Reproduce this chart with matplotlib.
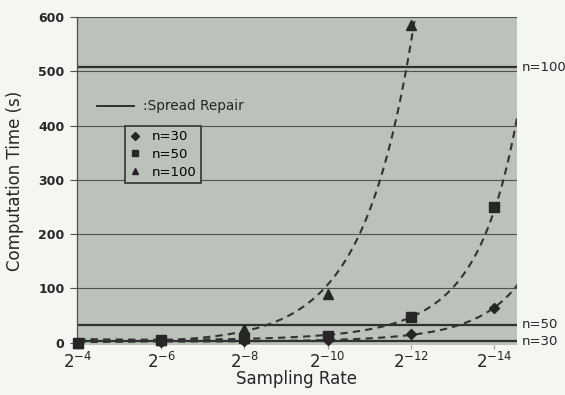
import numpy as np
import matplotlib
matplotlib.use("Agg")
import matplotlib.pyplot as plt
from matplotlib.lines import Line2D
import matplotlib.transforms as mtransforms

plt.rcParams["font.family"] = ["DejaVu Sans"]
plt.rcParams["mathtext.fontset"] = "dejavusans"

# --- data -------------------------------------------------------------------
exponents = [4, 6, 8, 10, 12, 14]          # sampling rate = 2^-k
tick_labels = [r"$2^{-%d}$" % k for k in exponents]

time_n30 = [0, 2, 3, 4, 16, 63]
time_n50 = [0, 5, 9, 12, 47, 250]
time_n100 = [0, 4, 25, 90, 585, np.nan]   # last point off the chart

spread_labels = ["n=30", "n=50", "n=100"]
spread_values = [3, 33, 507]

BG = "#bbc2b9"
FIG_BG = "#f4f6f1"
INK = "#262626"
GRID = "#4d524c"


def _trend(k, y):
    # trendline: quadratic fit of log(y) over the positive points
    k = np.asarray(k, float); y = np.asarray(y, float)
    m = np.isfinite(y) & (y > 0)
    c = np.polyfit(k[m], np.log(y[m]), 2)
    kk = np.linspace(4, 14.6, 300)
    return kk, np.exp(np.polyval(c, kk))


fig = plt.figure(figsize=(5.65, 3.95), dpi=100, facecolor=FIG_BG)
ax = fig.add_axes([0.136, 0.127, 0.779, 0.830])
ax.set_facecolor(BG)

ax.set_ylim(-4, 600)
ax.set_xlim(3.97, 14.55)
ax.set_yticks(range(0, 601, 100))
ax.set_xticks(exponents)
ax.set_xticklabels(tick_labels, fontsize=12)
ax.tick_params(axis="y", labelsize=9, length=5, color=GRID, pad=4, labelcolor=INK)
for t in ax.get_yticklabels():
    t.set_fontweight("bold")
ax.tick_params(axis="x", length=3, color="#999999", pad=2, labelcolor=INK)
for yv in range(100, 601, 100):
    ax.axhline(yv, color=GRID, lw=0.8, zorder=1)
for s in ["top", "right", "bottom"]:
    ax.spines[s].set_visible(False)
ax.spines["left"].set_color(GRID)
ax.spines["left"].set_linewidth(0.9)

# spread repair reference lines + right-side labels
trans = mtransforms.blended_transform_factory(ax.transAxes, ax.transData)
for lab, val in zip(spread_labels, spread_values):
    ax.axhline(val, color="#2e332e", lw=1.6, zorder=2)
    ax.text(1.01, val, lab, transform=trans, va="center",
            ha="left", fontsize=9.5, color=INK)

# trendlines
for ys in [time_n30, time_n50, time_n100]:
    kk, yy = _trend(exponents, ys)
    ax.plot(kk, yy, color="#333333", lw=1.5, ls=(0, (3.5, 2.5)), zorder=3)

# markers
ax.plot(exponents, time_n30, ls="none", marker="D", ms=5.5, color=INK, zorder=5, clip_on=False)
ax.plot(exponents, time_n50, ls="none", marker="s", ms=6.5, color=INK, zorder=4, clip_on=False)
ax.plot(exponents, time_n100, ls="none", marker="^", ms=7, color=INK, zorder=4, clip_on=False)

ax.set_ylabel("Computation Time (s)", fontsize=12, color=INK)
ax.yaxis.set_label_coords(-0.12, 0.5)
ax.set_xlabel("Sampling Rate", fontsize=12, color=INK, labelpad=-1)

# legend: solid line key + boxed marker key
ax.plot([0.045, 0.13], [0.727, 0.727], transform=ax.transAxes, color="#2e332e", lw=1.4)
ax.text(0.15, 0.727, ":Spread Repair", transform=ax.transAxes, va="center",
        fontsize=9.8, color=INK)
handles = [Line2D([], [], ls="none", marker="D", ms=4, color=INK),
           Line2D([], [], ls="none", marker="s", ms=4.5, color=INK),
           Line2D([], [], ls="none", marker="^", ms=5, color=INK)]
leg = ax.legend(handles, ["n=30", "n=50", "n=100"], loc="upper left",
                bbox_to_anchor=(0.109, 0.668), borderaxespad=0, fontsize=9.5,
                frameon=True, fancybox=False, handlelength=0.8, handletextpad=0.9,
                labelspacing=0.35, borderpad=0.35)
leg.get_frame().set_facecolor(BG)
leg.get_frame().set_edgecolor("#333333")
leg.get_frame().set_linewidth(1.2)
leg.get_frame().set_alpha(1)

fig.savefig("out.png", dpi=100, facecolor=FIG_BG)
